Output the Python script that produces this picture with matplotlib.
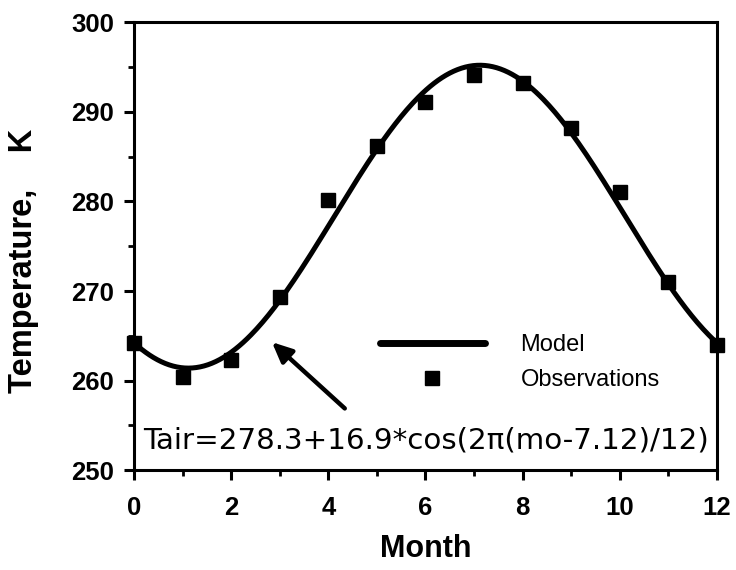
import numpy as np
import matplotlib.pyplot as plt
from matplotlib.ticker import MultipleLocator

# monthly mean air temperature observations (K)
months = [0, 1, 2, 3, 4, 5, 6, 7, 8, 9, 10, 11, 12]
obs_temp = [264.2, 260.4, 262.3, 269.3, 280.2, 286.2, 291.1, 294.1, 293.2, 288.2, 281.1, 271.0, 264.0]

# fitted model coefficients: Tair = mean + amp*cos(2*pi*(mo - phase)/12)
t_mean = 278.3
t_amp = 16.9
t_phase = 7.12

mo = np.linspace(0, 12, 300)
model = t_mean + t_amp * np.cos(2 * np.pi * (mo - t_phase) / 12)

plt.rcParams['font.family'] = ['Liberation Sans', 'DejaVu Sans']

fig = plt.figure(figsize=(7.36, 5.70), dpi=100)
ax = fig.add_axes([0.182, 0.175, 0.792, 0.786])

ax.plot(mo, model, color='black', lw=3.6, label='Model', solid_capstyle='round')
ax.plot(months, obs_temp, 's', color='black', ms=10.5, label='Observations',
        clip_on=False, zorder=5)

ax.set_xlim(0, 12)
ax.set_ylim(250, 300)
ax.xaxis.set_major_locator(MultipleLocator(2))
ax.xaxis.set_minor_locator(MultipleLocator(1))
ax.yaxis.set_major_locator(MultipleLocator(10))
ax.yaxis.set_minor_locator(MultipleLocator(5))

for s in ax.spines.values():
    s.set_linewidth(2.2)
ax.tick_params(which='major', direction='out', length=7.5, width=2.2, labelsize=18.5)
ax.tick_params(which='minor', direction='out', length=4.5, width=2.0)
ax.tick_params(axis='x', which='major', pad=11)
ax.tick_params(axis='y', which='major', pad=7)
for lab in ax.get_xticklabels() + ax.get_yticklabels():
    lab.set_fontweight('bold')

ax.set_xlabel('Month', fontsize=22, fontweight='bold', labelpad=10)
ax.set_ylabel('Temperature,    K', fontsize=23.5, fontweight='bold')
ax.yaxis.set_label_coords(-0.163, 0.467)

leg = ax.legend(loc='center left', bbox_to_anchor=(0.422, 0.241), frameon=False,
                handlelength=4.45, handletextpad=1.5, labelspacing=0.55,
                borderpad=0, borderaxespad=0, prop={'size': 17})
leg.get_lines()[0].set_linewidth(5.0)

ax.annotate('', xy=(2.84, 264.3), xytext=(4.34, 256.9),
            arrowprops=dict(arrowstyle='-|>,head_length=1.2,head_width=0.55',
                            color='black', lw=3.2, shrinkA=0, shrinkB=0))
ax.text(0.185, 253.35, 'Tair=278.3+16.9*cos(2\u03c0(mo-7.12)/12)',
        fontsize=21.2, family=['DejaVu Sans'], va='center', ha='left')

fig.savefig('out.png', dpi=100)
